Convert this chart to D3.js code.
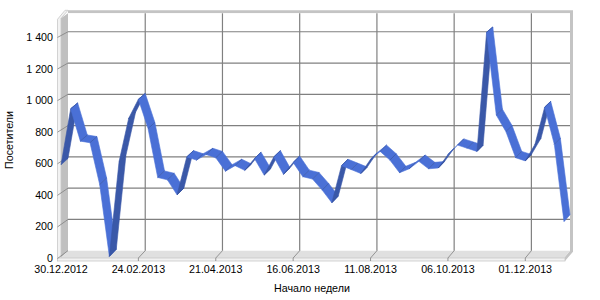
<!DOCTYPE html>
<html>
<head>
<meta charset="utf-8">
<script src="https://cdn.jsdelivr.net/npm/d3@7"></script>
<style>
  body { margin: 0; background: #fff; }
  svg text { font-family: "Liberation Sans", Arial, sans-serif; font-size: 10.7px; fill: #000; }
</style>
</head>
<body>
<svg class="canvas" width="600" height="300"></svg>
<script>
// weekly visitors, first week starts 30.12.2012
var startDate = "2012-12-30";
var visitors = [590, 945, 740, 730, 465, 10, 610, 885, 1005, 820,
                510, 495, 400, 640, 620, 655, 635, 550, 585, 555,
                630, 525, 640, 530, 605, 515, 500, 430, 350, 585,
                560, 535, 625, 675, 620, 540, 565, 612, 565, 570,
                655, 715, 695, 675, 1430, 905, 800, 635, 615, 720,
                955, 720, 230];
var yTicks = [0, 200, 400, 600, 800, 1000, 1200, 1400];
var xTickStep = 8;
var yTitle = "Посетители";
var xTitle = "Начало недели";

var parse = d3.timeParse("%Y-%m-%d");
var fmtDate = d3.timeFormat("%d.%m.%Y");
var weeks = visitors.map(function(d, i) {
  return fmtDate(d3.timeDay.offset(parse(startDate), 7 * i));
});
var fmtNum = d3.formatLocale({decimal: ",", thousands: " ", grouping: [3], currency: ["", ""]}).format(",d");

var yMax = 1518;
var n = visitors.length - 1;

// front plane and back plane of the 3d box
var xFront = d3.scaleLinear().domain([0, n]).range([61, 564]);
var xBack = d3.scaleLinear().domain([0, n]).range([68, 570]);
var yFront = d3.scaleLinear().domain([0, yMax]).range([258, 18.3]);
var yBack = d3.scaleLinear().domain([0, yMax]).range([250.7, 13.3]);

var svg = d3.select(".canvas");
var grid = "#808080";

// back wall with its thickness on top and right
svg.append("path")
  .attr("d", "M" + xBack(0) + "," + (yBack(yMax) - 3) + "H" + (xBack(n) + 3) + "V" + (yBack(0) + 1) +
             "L" + (xFront(n) + 1) + "," + (yFront(0) + 3) + "H" + xFront(n) + "V" + yFront(0) +
             "L" + xBack(n) + "," + yBack(0) + "V" + yBack(yMax) + "H" + xBack(0) + "Z")
  .attr("fill", "#c4c4c4");
svg.append("rect")
  .attr("x", xBack(0)).attr("y", yBack(yMax))
  .attr("width", xBack(n) - xBack(0)).attr("height", yBack(0) - yBack(yMax))
  .attr("fill", "#fff");

// left wall
svg.append("path")
  .attr("d", "M" + xFront(0) + "," + yFront(0) + "V" + yFront(yMax) + "L" + xBack(0) + "," + yBack(yMax) +
             "V" + yBack(0) + "Z")
  .attr("fill", "#c0c0c0");
svg.append("path")
  .attr("d", "M" + (xFront(0) - 3.5) + "," + (yFront(0) + 3) + "V" + (yFront(yMax) + 1) +
             "L" + (xBack(0) - 3) + "," + (yBack(yMax) - 3) + "L" + xBack(0) + "," + (yBack(yMax) - 3) +
             "L" + xFront(0) + "," + yFront(yMax) + "V" + yFront(0) + "Z")
  .attr("fill", "#f2f2f2").attr("stroke", "#c8c8c8").attr("stroke-width", 0.8);

// floor
svg.append("path")
  .attr("d", "M" + xFront(0) + "," + yFront(0) + "H" + xFront(n) + "L" + xBack(n) + "," + yBack(0) +
             "H" + xBack(0) + "Z")
  .attr("fill", "#e0e0e0");
svg.append("rect")
  .attr("x", xFront(0) - 3.5).attr("y", yFront(0))
  .attr("width", xFront(n) - xFront(0) + 4.5).attr("height", 3)
  .attr("fill", "#f2f2f2").attr("stroke", "#c8c8c8").attr("stroke-width", 0.8);

// horizontal gridlines on back wall and left wall
yTicks.forEach(function(v) {
  if (v > 0) {
    svg.append("line")
      .attr("x1", xBack(0)).attr("x2", xBack(n))
      .attr("y1", yBack(v)).attr("y2", yBack(v))
      .attr("stroke", grid).attr("stroke-width", 1.2);
  }
  svg.append("line")
    .attr("x1", xFront(0) - 3.5).attr("y1", yFront(v) + 0.5)
    .attr("x2", xBack(0)).attr("y2", yBack(v))
    .attr("stroke", grid).attr("stroke-width", 0.8);
  svg.append("text")
    .attr("x", 53).attr("y", yFront(v) + 4)
    .attr("text-anchor", "end")
    .text(fmtNum(v));
});

// vertical gridlines and x labels
var xTicks = d3.range(0, n + 1, xTickStep);
xTicks.forEach(function(i) {
  if (i > 0) {
    svg.append("line")
      .attr("x1", xBack(i)).attr("x2", xBack(i))
      .attr("y1", yBack(yMax)).attr("y2", yBack(0))
      .attr("stroke", grid).attr("stroke-width", 1.2);
    svg.append("path")
      .attr("d", "M" + xBack(i) + "," + yBack(0) + "L" + xFront(i) + "," + yFront(0) + "V" + (yFront(0) + 3))
      .attr("fill", "none").attr("stroke", grid).attr("stroke-width", 0.8);
  }
  svg.append("text")
    .attr("x", xFront(i)).attr("y", 273)
    .attr("text-anchor", "middle")
    .text(weeks[i]);
});

// ribbon line
var light = "#4a70d6", dark = "#3a58a8";
var ribbon = svg.append("g");
for (var i = 0; i < n; i++) {
  var p = [
    [xFront(i), yFront(visitors[i])],
    [xFront(i + 1), yFront(visitors[i + 1])],
    [xBack(i + 1), yBack(visitors[i + 1])],
    [xBack(i), yBack(visitors[i])]
  ];
  var sx = p[1][0] - p[0][0], sy = p[1][1] - p[0][1];
  var dx = p[3][0] - p[0][0], dy = p[3][1] - p[0][1];
  var cross = sx * dy - sy * dx;
  var col = cross < 0 ? light : dark;
  ribbon.append("path")
    .attr("d", "M" + p.join("L") + "Z")
    .attr("fill", col)
    .attr("stroke", col).attr("stroke-width", 0.6);
  if (i > 0) {
    ribbon.append("line")
      .attr("x1", p[0][0]).attr("y1", p[0][1])
      .attr("x2", p[3][0]).attr("y2", p[3][1])
      .attr("stroke", "#34509a").attr("stroke-width", 0.6);
  }
}

// axis titles
svg.append("text")
  .attr("transform", "translate(13,140) rotate(-90)")
  .attr("text-anchor", "middle")
  .text(yTitle);
svg.append("text")
  .attr("x", 312).attr("y", 292)
  .attr("text-anchor", "middle")
  .text(xTitle);
</script>
</body>
</html>
